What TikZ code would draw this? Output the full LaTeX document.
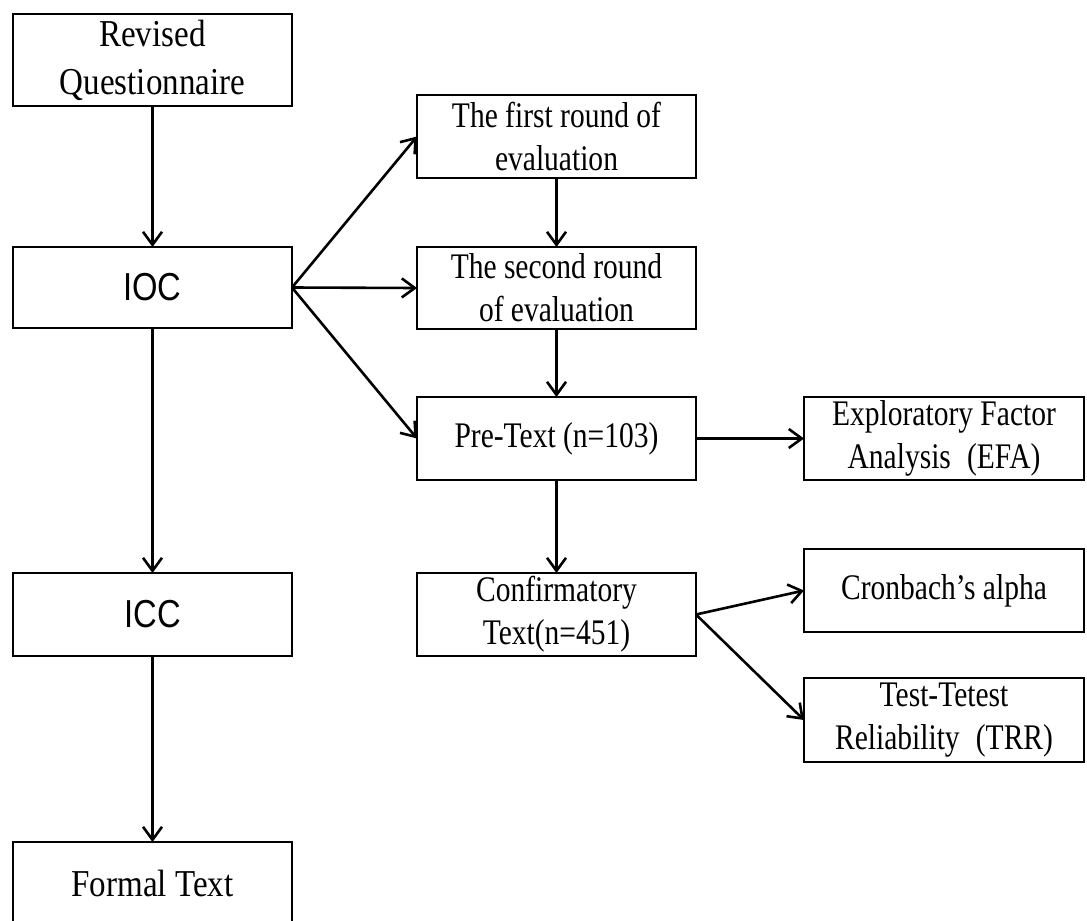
\documentclass[tikz,border=0pt]{standalone}
\usepackage{fontspec}
\setmainfont{Liberation Serif}[FakeStretch=0.82]
\newfontfamily\widerserif{Liberation Serif}[FakeStretch=0.87]
\newfontfamily\labelsans{Liberation Sans}[FakeStretch=0.84]
\usetikzlibrary{arrows.meta}
\begin{document}
\begin{tikzpicture}[x=1pt,y=-1pt,
  box/.style={draw=black, line width=2pt, fill=white, align=center,
    minimum width=279pt, minimum height=83pt, inner sep=0pt, outer sep=0pt,
    font=\fontsize{36}{43}\selectfont},
  bigbox/.style={box, minimum height=92pt,
    font=\widerserif\fontsize{38}{48}\selectfont},
  sansbox/.style={box, font=\labelsans\fontsize{39}{44}\selectfont},
  arr/.style={draw=black, line width=2.6pt,
    -{Straight Barb[length=13pt,width=19pt,line width=2.6pt]}}]
\useasboundingbox (0,0) rectangle (1087,921);
\clip (0,0) rectangle (1087,921);

% left column
\node[bigbox] (rq) at (152.5,60) {Revised\\Questionnaire};
\node[sansbox, minimum height=81pt] (ioc) at (152.5,287.5) {IOC};
\node[sansbox] (icc) at (152.5,614.5) {ICC};
\node[bigbox, minimum height=82pt] (formal) at (152.5,883) {Formal Text};

% middle column
\node[box] (r1) at (556.5,136.5) {The first round of\\evaluation};
\node[box, minimum height=82pt] (r2) at (556.5,288) {The second round\\of evaluation};
\node[box] (pre) at (556.5,438.5) {Pre-Text (n=103)};
\node[box] (conf) at (556.5,614.5) {Confirmatory\\Text(n=451)};

% right column
\node[box, minimum width=280pt] (efa) at (944,438.5) {Exploratory Factor\\Analysis\hspace{0.45em}(EFA)};
\node[box, minimum width=280pt] (alpha) at (944,590.5) {Cronbach’s alpha};
\node[box, minimum width=280pt, minimum height=84pt] (trr) at (944,720) {Test-Tetest\\Reliability\hspace{0.45em}(TRR)};

% connectors
\draw[arr] (rq) -- (ioc);
\draw[arr] (ioc) -- (icc);
\draw[arr] (icc) -- (formal);
\draw[arr] (ioc.east) -- (r1.west);
\draw[arr] (ioc.east) -- (r2.west);
\draw[arr] (ioc.east) -- (pre.west);
\draw[arr] (r1) -- (r2);
\draw[arr] (r2) -- (pre);
\draw[arr] (pre) -- (conf);
\draw[arr] (pre) -- (efa);
\draw[arr] (conf.east) -- (alpha.west);
\draw[arr] (conf.east) -- (trr.west);
\end{tikzpicture}
\end{document}
